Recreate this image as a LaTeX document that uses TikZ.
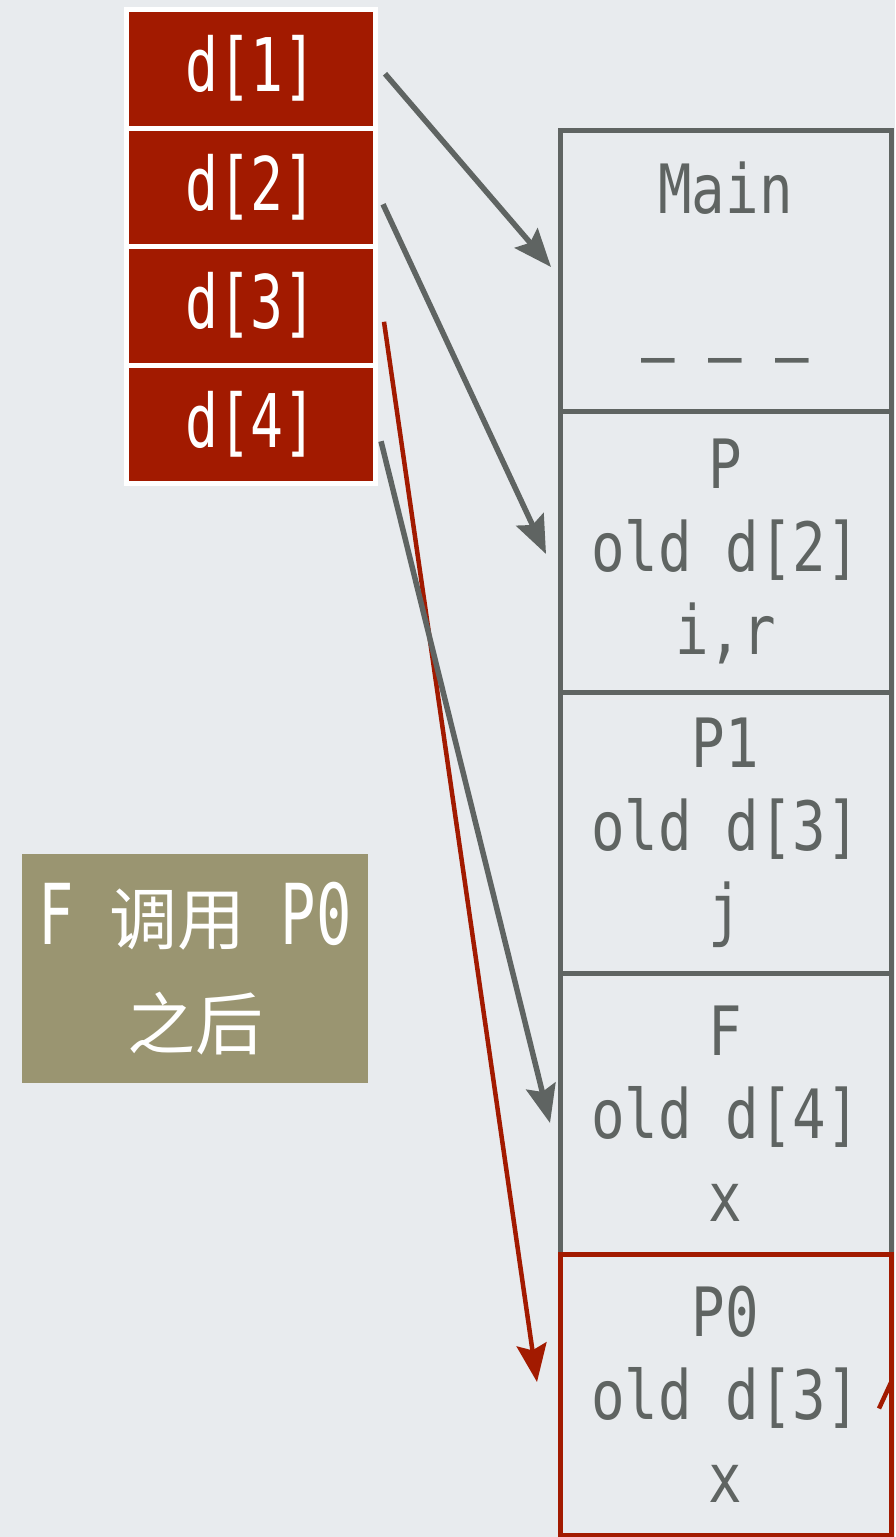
\documentclass[tikz,border=0pt]{standalone}
\usepackage{fontspec}
\usetikzlibrary{positioning,arrows.meta}
\newfontfamily\stackfont{DejaVu Sans Mono}[FakeStretch=0.82]
\newfontfamily\cellfont{DejaVu Sans Mono}[FakeStretch=0.74]
\newfontfamily\notefont{DejaVu Sans Mono}[FakeStretch=0.7]
\newfontfamily\cjk{Noto Sans CJK SC}
\definecolor{bgcol}{RGB}{232,235,238}
\definecolor{framegray}{RGB}{95,100,98}
\definecolor{cellred}{RGB}{162,26,0}
\definecolor{noteolive}{RGB}{154,149,113}
\tikzset{
  cell/.style={draw=white, line width=5pt, fill=cellred, minimum width=249pt, minimum height=118.5pt,
    inner sep=0pt, outer sep=0pt, text=white, font=\cellfont\fontsize{74pt}{80pt}\selectfont},
  frame/.style={draw=framegray, line width=5pt, minimum width=331pt, minimum height=281pt,
    inner sep=0pt, outer sep=0pt, align=center, text=framegray, font=\stackfont\fontsize{68pt}{83pt}\selectfont},
  ptr/.style={draw=framegray, line width=5.5pt, -{Stealth[length=38pt,width=30pt,inset=6pt]}},
  redptr/.style={ptr, draw=cellred, line width=4.5pt}
}
\newcommand\zh[1]{{\cjk\fontsize{68pt}{105pt}\selectfont #1}}
\begin{document}
\begin{tikzpicture}[x=1pt, y=-1pt]
\path[use as bounding box] (0,0) rectangle (895,1537);
\clip (0,0) rectangle (895,1537);
\fill[bgcol] (0,0) rectangle (895,1537);
% the array d
\foreach \i in {1,...,4} {
  \node[cell] (d\i) at (251, {68.75+118.5*(\i-1)}) {d[\i]};
}
% the stack
\node[frame] (main) at (725.5,270.5) {Main\\\mbox{}\\– – –};
\node[frame, below=0pt of main] (p) {P\\old d[2]\\i,r};
\node[frame, below=0pt of p] (pone) {P1\\old d[3]\\j};
\node[frame, below=0pt of pone] (f) {F\\old d[4]\\x};
\node[frame, below=0pt of f, draw=cellred] (pzero) {P0\\old d[3]\\x};
% note
\node[fill=noteolive, minimum width=346pt, minimum height=229pt, inner sep=0pt, align=center, text=white,
  font=\notefont\fontsize{84pt}{105pt}\selectfont] (note) at (195,968.5) {F \zh{调用} P0\\\zh{之后}};
% pointers
\draw[redptr] ([shift={(8.5,16)}]d3.east) -- ([shift={(-23,-12.5)}]pzero.west);
\draw[ptr] ([shift={(9.5,5)}]d1.east) -- ([shift={(-9,-3.5)}]main.west);
\draw[ptr] ([shift={(7.5,17)}]d2.east) -- ([shift={(-14,2.5)}]p.west);
\draw[ptr] ([shift={(5.5,17)}]d4.east) -- ([shift={(-10,9.5)}]f.west);
\coordinate (up) at ([shift={(-12,14)}]pzero.east);
\coordinate (out) at ([shift={(0,-12)}]pzero.east);
\draw[cellred, line width=4.5pt] (up) -- (out);
\end{tikzpicture}
\end{document}
